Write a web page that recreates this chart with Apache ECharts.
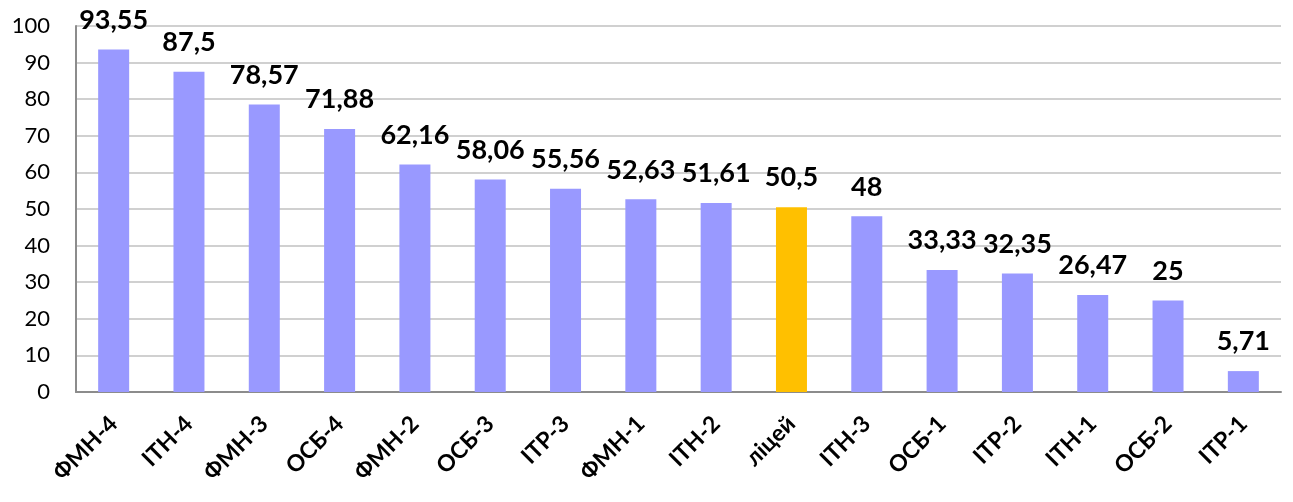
<!DOCTYPE html>
<html>
<head>
<meta charset="utf-8">
<script src="https://cdn.jsdelivr.net/npm/echarts@6/dist/echarts.min.js"></script>
<style>
html, body { margin: 0; padding: 0; background: #fff; }
#chart { width: 1293px; height: 502px; }
</style>
</head>
<body>
<div id="chart"></div>
<script>
// категорії та значення
var categories = ['ФМН-4', 'ІТН-4', 'ФМН-3', 'ОСБ-4', 'ФМН-2', 'ОСБ-3', 'ІТР-3', 'ФМН-1', 'ІТН-2', 'ліцей', 'ІТН-3', 'ОСБ-1', 'ІТР-2', 'ІТН-1', 'ОСБ-2', 'ІТР-1'];
var values = [93.55, 87.5, 78.57, 71.88, 62.16, 58.06, 55.56, 52.63, 51.61, 50.5, 48, 33.33, 32.35, 26.47, 25, 5.71];
var highlight = 'ліцей';

var myChart = echarts.init(document.getElementById('chart'));

var barData = values.map(function (v, i) {
	return {
		value: v,
		itemStyle: { color: categories[i] === highlight ? '#FFC000' : '#9999FF' }
	};
});

var option = {
	animation: false,
	textStyle: { fontFamily: 'Lato' },
	grid: { left: 76, right: 12, top: 26, bottom: 110 },
	xAxis: {
		type: 'category',
		data: categories,
		axisLine: { lineStyle: { color: '#8c8c8c', width: 2 } },
		axisTick: { show: false },
		axisLabel: {
			rotate: 45,
			interval: 0,
			margin: 28,
			color: '#000',
			fontSize: 23,
			fontWeight: 'bold',
			fontFamily: 'Lato'
		}
	},
	yAxis: {
		type: 'value',
		min: 0,
		max: 100,
		interval: 10,
		axisLine: { show: true, lineStyle: { color: '#8c8c8c', width: 2 } },
		axisTick: { show: false },
		splitLine: { lineStyle: { color: '#c0c0c0', width: 1.5 } },
		axisLabel: { color: '#000', fontSize: 22, margin: 26, fontFamily: 'Lato' }
	},
	series: [{
		type: 'bar',
		data: barData,
		barWidth: 31,
		label: {
			show: true,
			position: 'top',
			distance: 16,
			color: '#000',
			fontSize: 27,
			fontWeight: 'bold',
			fontFamily: 'Lato',
			formatter: function (p) {
				return String(p.value).replace('.', ',');
			}
		}
	}]
};
myChart.setOption(option);
</script>
</body>
</html>
